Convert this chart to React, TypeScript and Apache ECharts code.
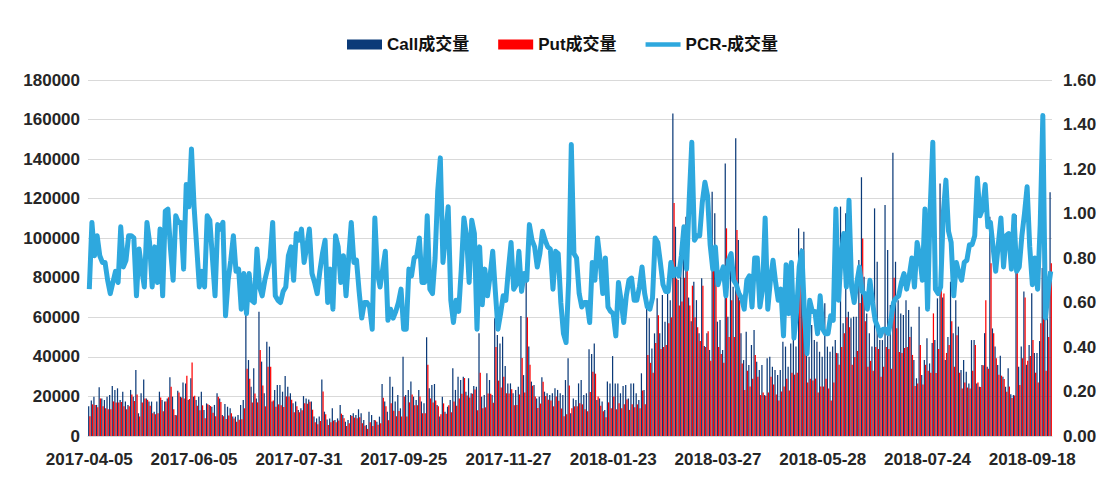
import React, { useEffect, useRef } from "react";
import * as echarts from "echarts";

// Chinese exchange holidays falling on weekdays (used to build the trading-day category axis)
const HOLIDAYS: string[] = [
  "2017-05-01", "2017-05-29", "2017-05-30",
  "2017-10-02", "2017-10-03", "2017-10-04", "2017-10-05", "2017-10-06",
  "2018-01-01", "2018-02-15", "2018-02-16", "2018-02-19", "2018-02-20", "2018-02-21",
  "2018-04-05", "2018-04-06", "2018-04-30", "2018-05-01", "2018-06-18", "2018-09-24",
];

const CALL: number[] = [
  15000, 18000, 19900, 15700, 24600, 19000, 18200, 19900, 20700, 25300,
  23300, 24100, 18200, 22400, 17400, 15700, 23300, 19900, 33400, 11500,
  21600, 28600, 19000, 17400, 17400, 12300, 17400, 22400, 18200, 17400,
  19000, 29700, 19900, 10600, 22900, 19900, 27000, 26600, 18200, 29200,
  19900, 18200, 19900, 22400, 13100, 16500, 15700, 14800, 15700, 21600,
  19000, 10600, 16200, 14800, 14000, 9800, 9800, 10600, 15700, 18200,
  62000, 38400, 24900, 34200, 19000, 62800, 37600, 21600, 47700, 45200,
  17400, 23300, 25800, 25800, 22400, 30300, 24900, 21600, 16500, 17400,
  13100, 14000, 20200, 19000, 18500, 17400, 9800, 8900, 9800, 28600,
  12300, 8400, 8900, 14000, 8100, 8900, 15700, 10600, 7200, 8100,
  10600, 11500, 10600, 13500, 11500, 8100, 5600, 12300, 10600, 8100,
  7200, 9800, 26300, 17400, 12300, 30000, 24900, 17400, 20700, 14000,
  40100, 20700, 23300, 27500, 19900, 18200, 23300, 17400, 16500, 49900,
  24100, 25800, 26300, 15700, 9800, 19900, 12300, 14800, 18200, 34200,
  23300, 30000, 28300, 30000, 22400, 29200, 21600, 25300, 24900, 51900,
  19900, 20700, 31700, 28300, 20700, 59500, 51100, 46800, 50200, 35400,
  26600, 26600, 21600, 23300, 24900, 60700, 30800, 83900, 45200, 27500,
  25800, 19000, 19900, 29700, 22400, 21600, 20700, 21600, 24100, 23300,
  21600, 20700, 28300, 39300, 11500, 19000, 18200, 26600, 28300, 20700,
  21600, 43800, 41500, 46800, 18200, 19000, 17400, 13100, 27500, 26600,
  40400, 26600, 26600, 21600, 25300, 25800, 19000, 26600, 26600, 21600,
  18200, 31700, 23300, 69400, 59500, 44300, 51900, 69600, 51900, 71300,
  57800, 78900, 68700, 163000, 105800, 78900, 96500, 91500, 110900, 70000,
  58000, 78000, 68700, 51900, 79700, 45500, 51900, 43500, 123500, 112600,
  57800, 58600, 43500, 137800, 60300, 89000, 75500, 150500, 99100, 51900,
  38400, 52700, 35900, 46000, 53600, 37600, 33400, 35900, 20700, 39300,
  40100, 35000, 33400, 30800, 33400, 47700, 45200, 35000, 46800, 57000,
  45200, 105000, 94900, 103300, 51900, 40100, 56100, 48500, 47700, 42600,
  40100, 67100, 45200, 42600, 45200, 48500, 41800, 116000, 57000, 112600,
  62800, 59500, 60300, 60300, 89000, 130800, 80500, 62000, 51900, 45200,
  115100, 88100, 48500, 48500, 116800, 94000, 66200, 143200, 88100, 68700,
  62000, 61200, 68700, 63700, 55300, 38400, 29200, 65400, 30800, 38400,
  49400, 36700, 47000, 48500, 69600, 127700, 70000, 38400, 50000, 78000,
  51900, 68700, 55300, 33400, 38400, 32500, 26600, 48500, 48500, 26600,
  24900, 35900, 52000, 35000, 110900, 54400, 45200, 35900, 40600, 30000,
  24900, 34200, 21100, 20700, 111700, 35000, 45200, 73000, 36000, 46000,
  72200, 42000, 42000, 48000, 85000, 62000, 72000, 123200,
];

const PUT: number[] = [
  10000, 16000, 15700, 14500, 19000, 15000, 14000, 13500, 13500, 17500,
  17000, 17000, 17200, 15000, 13500, 15000, 21000, 17700, 21000, 9800,
  17000, 19000, 18300, 15300, 11500, 11000, 11500, 19500, 12500, 17500,
  19600, 24900, 13500, 10500, 22000, 19500, 19000, 30500, 18700, 37200,
  20300, 15300, 13000, 15500, 9000, 16000, 15200, 11700, 10000, 19800,
  17200, 10000, 8600, 10400, 11500, 8800, 7200, 8200, 8500, 14000,
  34000, 29000, 17000, 21500, 17000, 43500, 25500, 15000, 35000, 35000,
  18000, 14800, 16000, 15600, 14700, 20000, 20000, 18300, 12000, 15000,
  12000, 13000, 16500, 16300, 17300, 13300, 7000, 6000, 7600, 22500,
  11000, 5600, 7000, 7800, 7000, 7800, 11300, 9000, 5000, 6500,
  10100, 9300, 9000, 9500, 6500, 5200, 3600, 7000, 5100, 7900,
  5700, 6400, 19300, 15000, 8000, 16500, 12800, 10000, 12700, 9800,
  20000, 9900, 17000, 21000, 15500, 15500, 20000, 11500, 11500, 36000,
  19000, 17000, 18000, 15000, 11000, 16500, 11300, 15500, 12000, 17400,
  15300, 19000, 21400, 29300, 20500, 19500, 21300, 23500, 13000, 32000,
  14000, 14500, 21500, 21400, 16800, 45000, 28000, 24500, 30000, 21600,
  21500, 23600, 15500, 15700, 21000, 39400, 22000, 60000, 36000, 25400,
  20000, 14200, 16400, 27400, 20200, 18300, 18000, 15000, 20000, 17800,
  13900, 10000, 11000, 25500, 14000, 15000, 15000, 16500, 16000, 13500,
  12500, 22300, 32500, 31500, 20000, 15300, 12500, 9500, 17000, 14000,
  20000, 13500, 16500, 14000, 16000, 18500, 13200, 16000, 14500, 16000,
  14000, 23000, 16000, 40900, 37000, 32000, 47000, 61000, 44000, 45000,
  46000, 57000, 60000, 117800, 79500, 66000, 68000, 80000, 86000, 66000,
  76000, 60000, 55000, 48000, 76000, 45000, 53000, 38000, 85000, 85000,
  45000, 41500, 37000, 105000, 50000, 68700, 50000, 104100, 68700, 36700,
  23300, 33000, 25000, 29000, 40900, 30000, 20700, 22000, 20300, 22000,
  30000, 26000, 21000, 18000, 22500, 25000, 29000, 23000, 32000, 31000,
  32000, 81000, 73000, 50000, 27000, 29000, 28000, 29000, 22000, 25000,
  25000, 29000, 24000, 18000, 27000, 42000, 36000, 45000, 52000, 60000,
  55000, 36000, 40000, 43000, 67300, 99900, 58000, 35000, 38000, 33000,
  45000, 44000, 30000, 35000, 45000, 44000, 34000, 80000, 54500, 42500,
  42000, 44500, 45000, 50000, 41000, 25300, 26500, 46000, 26000, 36000,
  33000, 32000, 62000, 31800, 44000, 80000, 72000, 42000, 46000, 58000,
  35000, 51000, 32000, 24000, 27000, 24500, 24000, 33000, 46000, 27000,
  24800, 35800, 68700, 34000, 87300, 52000, 39300, 31000, 30500, 28800,
  22400, 25000, 19200, 20500, 83100, 25800, 39300, 70000, 38000, 40500,
  48500, 32000, 27000, 57000, 122200, 33000, 50000, 87300,
];

const PCR: number[] = [
  0.66, 0.96, 0.81, 0.90, 0.81, 0.78, 0.78, 0.70, 0.64, 0.69,
  0.74, 0.69, 0.94, 0.76, 0.79, 0.90, 0.90, 0.89, 0.63, 0.84,
  0.75, 0.67, 0.96, 0.87, 0.67, 0.85, 0.69, 0.93, 0.63, 1.01,
  1.02, 0.84, 0.70, 0.99, 0.96, 0.96, 0.75, 1.13, 1.03, 1.29,
  1.03, 0.85, 0.67, 0.74, 0.67, 0.99, 0.97, 0.80, 0.63, 0.95,
  0.93, 0.96, 0.54, 0.70, 0.79, 0.90, 0.74, 0.75, 0.57, 0.73,
  0.55, 0.73, 0.61, 0.60, 0.84, 0.67, 0.63, 0.70, 0.75, 0.80,
  0.96, 0.63, 0.61, 0.60, 0.65, 0.67, 0.81, 0.85, 0.70, 0.91,
  0.88, 0.93, 0.78, 0.85, 0.93, 0.73, 0.69, 0.64, 0.74, 0.82,
  0.88, 0.60, 0.75, 0.57, 0.90, 0.85, 0.69, 0.81, 0.63, 0.80,
  0.96, 0.78, 0.79, 0.65, 0.53, 0.60, 0.60, 0.58, 0.48, 0.98,
  0.73, 0.67, 0.75, 0.83, 0.52, 0.57, 0.53, 0.56, 0.60, 0.66,
  0.48, 0.48, 0.75, 0.72, 0.80, 0.81, 0.89, 0.69, 0.69, 0.99,
  0.66, 0.64, 0.80, 1.10, 1.25, 0.78, 0.90, 1.03, 0.61, 0.51,
  0.61, 0.56, 0.75, 0.98, 0.90, 0.69, 0.97, 0.91, 0.48, 0.85,
  0.59, 0.75, 0.63, 0.72, 0.83, 0.65, 0.48, 0.55, 0.63, 0.61,
  0.75, 0.87, 0.66, 0.68, 0.83, 0.65, 0.73, 0.70, 0.95, 0.88,
  0.85, 0.76, 0.82, 0.92, 0.88, 0.85, 0.84, 0.66, 0.83, 0.82,
  0.60, 0.46, 0.42, 0.70, 1.31, 0.82, 0.80, 0.64, 0.58, 0.60,
  0.60, 0.51, 0.78, 0.70, 0.89, 0.79, 0.64, 0.80, 0.58, 0.56,
  0.55, 0.45, 0.69, 0.61, 0.51, 0.63, 0.70, 0.71, 0.61, 0.61,
  0.67, 0.76, 0.64, 0.58, 0.57, 0.62, 0.89, 0.87, 0.78, 0.68,
  0.65, 0.65, 0.78, 0.72, 0.75, 0.72, 0.81, 0.94, 0.75, 1.06,
  1.32, 0.88, 0.90, 0.90, 1.05, 1.14, 1.08, 0.86, 0.75, 0.85,
  0.68, 0.72, 0.76, 0.63, 0.79, 0.82, 0.70, 0.68, 0.64, 0.62,
  0.57, 0.70, 0.72, 0.58, 0.80, 0.80, 0.58, 0.66, 0.98, 0.57,
  0.70, 0.79, 0.69, 0.61, 0.66, 0.45, 0.77, 0.55, 0.78, 0.44,
  0.56, 0.76, 0.83, 0.55, 0.37, 0.61, 0.56, 0.56, 0.46, 0.63,
  0.48, 0.46, 0.46, 0.54, 0.52, 1.02, 0.61, 0.81, 0.91, 0.67,
  1.06, 0.67, 0.60, 0.69, 0.76, 0.65, 0.64, 0.57, 0.70, 0.60,
  0.52, 0.49, 0.45, 0.48, 0.48, 0.46, 0.52, 0.60, 0.62, 0.63,
  0.69, 0.73, 0.66, 0.72, 0.80, 0.67, 0.87, 0.81, 0.70, 1.02,
  0.57, 1.02, 1.32, 0.66, 0.64, 0.67, 1.00, 1.15, 0.92, 0.87,
  0.63, 0.78, 0.73, 0.70, 0.78, 0.79, 0.86, 0.86, 0.90, 1.16,
  0.99, 1.02, 1.13, 0.94, 0.96, 0.85, 0.74, 0.86, 0.98, 0.76,
  0.90, 0.91, 0.75, 0.99, 0.74, 0.76, 0.90, 1.00, 1.12, 0.85,
  0.68, 0.80, 0.66, 0.95, 1.44, 0.53, 0.65, 0.74,
];

const SERIES_NAMES = ["Call成交量", "Put成交量", "PCR-成交量"];

function tradingDays(count: number): string[] {
  const out: string[] = [];
  const d = new Date(Date.UTC(2017, 3, 5));
  while (out.length < count) {
    const wd = d.getUTCDay();
    const s = d.toISOString().slice(0, 10);
    if (wd !== 0 && wd !== 6 && HOLIDAYS.indexOf(s) < 0) out.push(s);
    d.setUTCDate(d.getUTCDate() + 1);
  }
  return out;
}

const DATES = tradingDays(CALL.length);

const FONT = "'Liberation Sans', Arial, 'Noto Sans CJK SC', sans-serif";

export default function App() {
  const ref = useRef<HTMLDivElement>(null);
  useEffect(() => {
    if (!ref.current) return;
    const chart = echarts.init(ref.current, undefined, { renderer: "svg" });
    const labelStyle = { fontSize: 17, fontWeight: "bold" as const, color: "#262626", fontFamily: FONT };
    chart.setOption({
      animation: false,
      backgroundColor: "#ffffff",
      textStyle: { fontFamily: FONT },
      legend: {
        left: 342,
        top: 31,
        itemWidth: 35,
        itemHeight: 10,
        itemGap: 29,
        textStyle: { fontSize: 17, fontWeight: "bold", color: "#111", fontFamily: FONT },
        data: [
          { name: SERIES_NAMES[0], icon: "rect" },
          { name: SERIES_NAMES[1], icon: "rect" },
          { name: SERIES_NAMES[2], icon: "path://M0,0L38,0L38,5L0,5Z" },
        ],
      },
      grid: { left: 88, right: 53, top: 80, bottom: 42 },
      xAxis: {
        type: "category",
        data: DATES,
        axisTick: { show: false },
        axisLine: { show: true, lineStyle: { color: "#D9D9D9" } },
        axisLabel: { ...labelStyle, interval: 39, margin: 15 },
      },
      yAxis: [
        {
          type: "value",
          min: 0,
          max: 180000,
          interval: 20000,
          axisLine: { show: false },
          axisTick: { show: false },
          axisLabel: { ...labelStyle, margin: 8, formatter: (v: number) => String(v) },
          splitLine: { lineStyle: { color: "#D9D9D9", width: 1 } },
        },
        {
          type: "value",
          min: 0,
          max: 1.6,
          interval: 0.2,
          axisLine: { show: false },
          axisTick: { show: false },
          axisLabel: { ...labelStyle, margin: 11, formatter: (v: number) => v.toFixed(2) },
          splitLine: { show: false },
        },
      ],
      series: [
        {
          name: SERIES_NAMES[0],
          type: "bar",
          data: CALL,
          barGap: "0%",
          barCategoryGap: "6%",
          itemStyle: { color: "#0B3A78" },
        },
        {
          name: SERIES_NAMES[1],
          type: "bar",
          data: PUT,
          itemStyle: { color: "#FF0000" },
        },
        {
          name: SERIES_NAMES[2],
          type: "line",
          yAxisIndex: 1,
          data: PCR,
          symbol: "none",
          z: 5,
          lineStyle: { width: 5, color: "#2EA8DE", join: "round" },
          itemStyle: { color: "#2EA8DE" },
        },
      ],
    });
    return () => chart.dispose();
  }, []);
  return (
    <div
      ref={ref}
      style={{ position: "absolute", left: 0, top: 0, width: 1105, height: 478, background: "#fff" }}
    />
  );
}
